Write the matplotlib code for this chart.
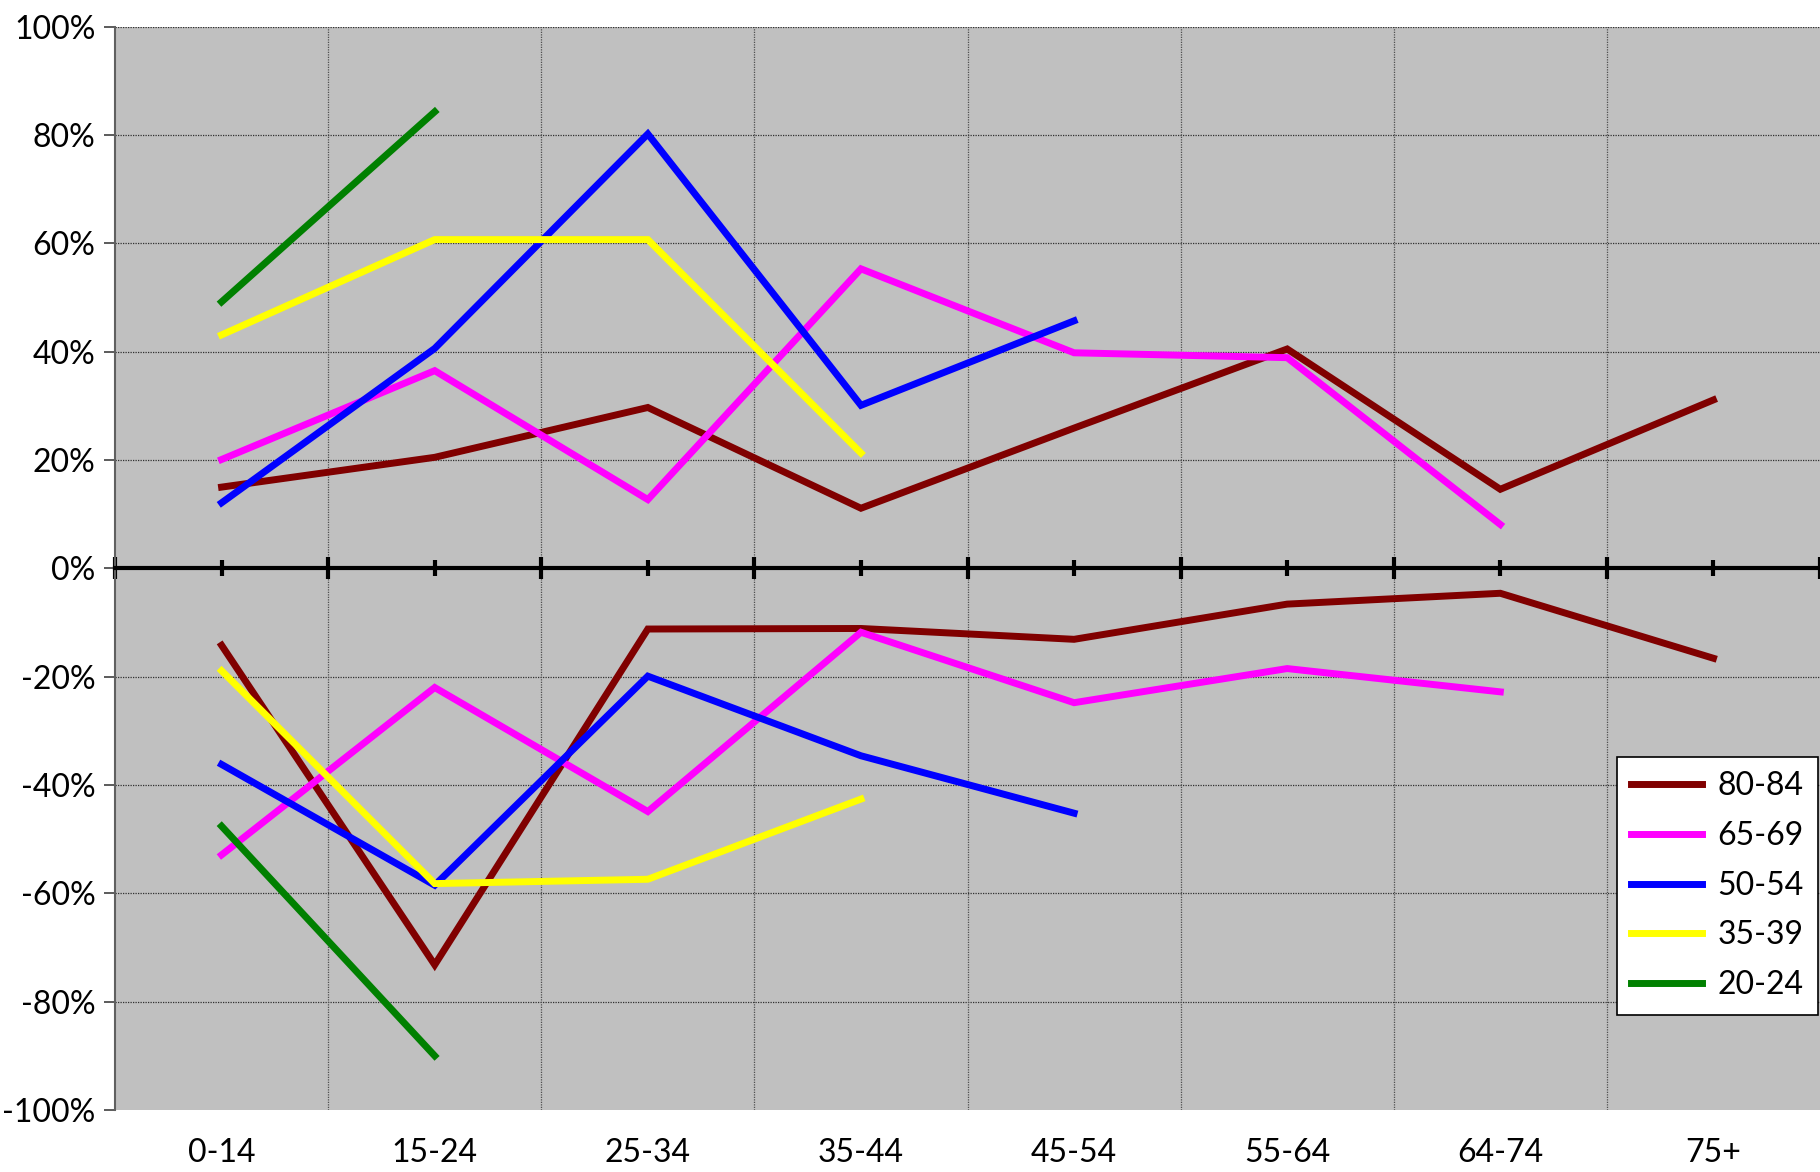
import matplotlib
matplotlib.use("Agg")
import matplotlib.pyplot as plt
import numpy as np

# Categorias del eje X
categorias = ["0-14", "15-24", "25-34", "35-44", "45-54", "55-64", "64-74", "75+"]
nan = np.nan

# Valores en % (parte positiva y negativa de cada serie)
pos_80_84 = [15.0, 20.5, 29.7, 11.1, 25.9, 40.5, 14.6, 31.1]
neg_80_84 = [-14.2, -73.2, -11.2, -11.1, -13.1, -6.6, -4.6, -16.6]
pos_65_69 = [20.1, 36.5, 12.7, 55.3, 39.8, 38.9, 8.1, nan]
neg_65_69 = [-52.9, -22.0, -44.9, -11.8, -24.8, -18.5, -22.8, nan]
pos_50_54 = [12.1, 40.6, 80.2, 30.1, 45.7, nan, nan, nan]
neg_50_54 = [-36.2, -58.5, -19.9, -34.6, -45.2, nan, nan, nan]
pos_35_39 = [43.1, 60.7, 60.7, 21.3, nan, nan, nan, nan]
neg_35_39 = [-18.9, -58.2, -57.4, -42.6, nan, nan, nan, nan]
pos_20_24 = [49.2, 84.3, nan, nan, nan, nan, nan, nan]
neg_20_24 = [-47.6, -90.0, nan, nan, nan, nan, nan, nan]

series = ["80-84", "65-69", "50-54", "35-39", "20-24"]
colores = ["#800000", "#ff00ff", "#0000ff", "#ffff00", "#008000"]
positivos = [pos_80_84, pos_65_69, pos_50_54, pos_35_39, pos_20_24]
negativos = [neg_80_84, neg_65_69, neg_50_54, neg_35_39, neg_20_24]

plt.rcParams['font.family'] = ['Lato', 'DejaVu Sans']

fig = plt.figure(figsize=(18.2, 11.72), dpi=100)
ax = fig.add_axes([0.0632, 0.0529, 0.9368, 0.9243])
ax.set_facecolor("#c0c0c0")

x = np.arange(len(categorias))

# rejilla
for v in np.arange(-80, 101, 20):
    if v != 0:
        ax.axhline(v, color="#303030", lw=0.9, ls=(0, (1, 1)), zorder=1)
for xv in x[:-1] + 0.5:
    ax.axvline(xv, color="#505050", lw=0.9, ls=(0, (1, 1)), zorder=1)

for nombre, col, p, n in zip(series, colores, positivos, negativos):
    ax.plot(x, p, color=col, lw=5, label=nombre, zorder=3, solid_joinstyle='miter')
    ax.plot(x, n, color=col, lw=5, label='_nolegend_', zorder=3, solid_joinstyle='miter')

ax.set_xlim(-0.5, len(categorias) - 0.5)
ax.set_ylim(-100, 100)

# eje X en el cero con marcas
ax.spines['bottom'].set_position(('data', 0))
ax.spines['bottom'].set_linewidth(3)
ax.spines['bottom'].set_color("black")
ax.spines['bottom'].set_zorder(4)
ax.set_xticks(x)
ax.set_xticks(np.arange(-0.5, len(categorias), 1.0), minor=True)
ax.tick_params(axis='x', which='major', direction='inout', length=12, width=3,
               labelbottom=False)
ax.tick_params(axis='x', which='minor', direction='inout', length=16, width=3)

# etiquetas abajo
sec = ax.secondary_xaxis('bottom')
sec.spines['bottom'].set_visible(False)
sec.set_xticks(x)
sec.set_xticklabels(categorias, fontsize=23)
sec.tick_params(axis='x', length=0, pad=20)

ax.spines['top'].set_visible(False)
ax.spines['right'].set_visible(False)
ax.spines['left'].set_color("#606060")
ax.spines['left'].set_linewidth(1.5)

yt = np.arange(-100, 101, 20)
ax.set_yticks(yt)
ax.set_yticklabels([f"{v}%" for v in yt], fontsize=23)
ax.tick_params(axis='y', direction='out', length=8, width=1.2, color="#404040", pad=6)

leg = ax.legend(loc='lower right', bbox_to_anchor=(0.999, 0.088), fontsize=23,
                frameon=True, fancybox=False, edgecolor='black', framealpha=1,
                handlelength=2.2, handletextpad=0.5, labelspacing=0.62,
                borderpad=0.45, borderaxespad=0)
leg.get_frame().set_linewidth(1.2)
for l in leg.get_lines():
    l.set_linewidth(5)

fig.savefig("out.png", dpi=100, facecolor="white")
